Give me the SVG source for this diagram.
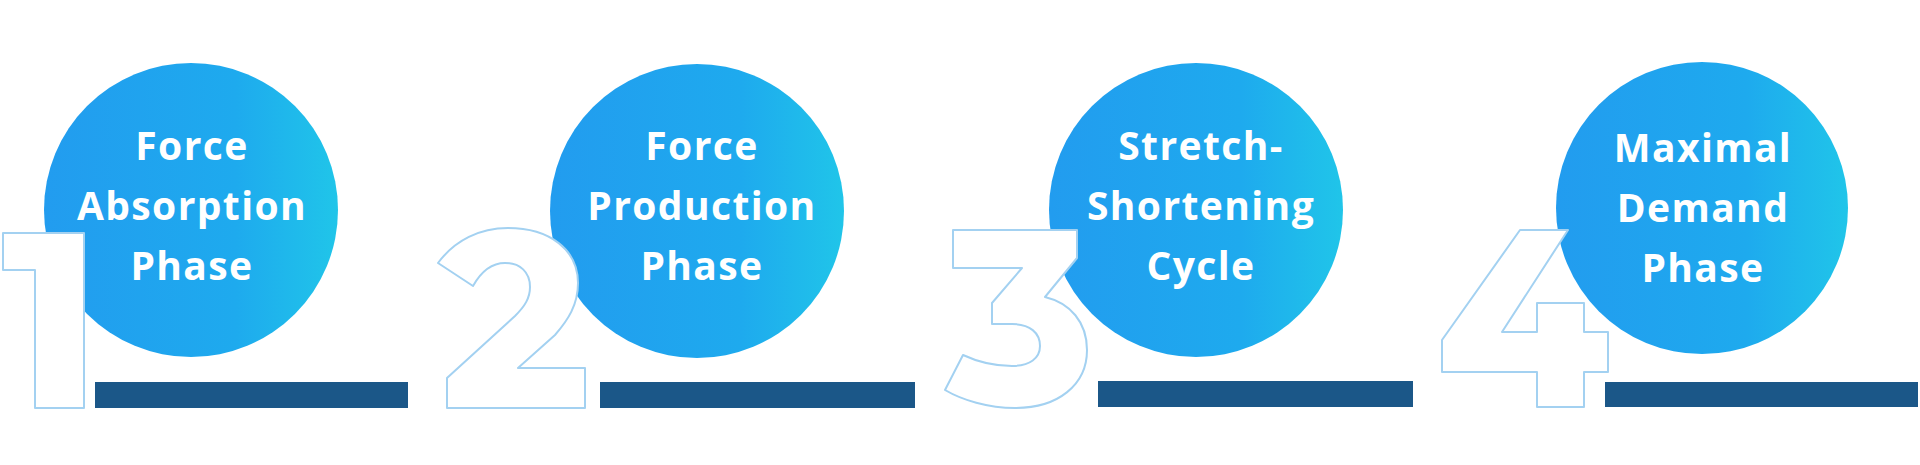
<svg xmlns="http://www.w3.org/2000/svg" width="1920" height="465" viewBox="0 0 1920 465">
<defs>
<linearGradient id="g" x1="0" y1="0" x2="1" y2="0">
<stop offset="0" stop-color="#229cef"/>
<stop offset="0.65" stop-color="#1eaaee"/>
<stop offset="1" stop-color="#20c5e9"/>
</linearGradient>
</defs>
<style>
.c{fill:url(#g)}
.d{fill:#ffffff;stroke:#a3d1f1;stroke-width:2;stroke-linejoin:round}
.b{fill:#1b5788}
.t{font-family:"Open Sans","Liberation Sans",sans-serif;font-weight:700;font-size:39px;fill:#ffffff;text-anchor:middle;letter-spacing:1.4px}
</style>
<rect width="1920" height="465" fill="#ffffff"/>
<g id="step1">
<circle class="c" cx="191" cy="210" r="147"/>
<path class="d" d="M3,233 L84,233 L84,408 L35,408 L35,270 L3,270 Z"/>
<rect class="b" x="95" y="382" width="313" height="26"/>
<text class="t" x="192" y="160">Force</text>
<text class="t" x="192" y="220">Absorption</text>
<text class="t" x="192" y="280">Phase</text>
</g>
<g id="step2">
<circle class="c" cx="697" cy="211" r="147"/>
<path class="d" d="M438,263 C455,240 480,228 508,228 C550,228 578,250 578,283 C578,305 568,320 555,335 L518,368 L585,368 L585,408 L447,408 L447,378 L515,316 C525,306 530,298 530,287 C530,272 520,263 505,263 C492,263 482,270 473,286 Z"/>
<rect class="b" x="600" y="382" width="315" height="26"/>
<text class="t" x="702" y="160">Force</text>
<text class="t" x="702" y="220">Production</text>
<text class="t" x="702" y="280">Phase</text>
</g>
<g id="step3">
<circle class="c" cx="1196" cy="210" r="147"/>
<path class="d" d="M953,230 L1077,230 L1077,258 L1045,297 C1070,303 1087,322 1087,350 C1087,385 1058,408 1015,408 C988,408 962,400 945,390 L963,355 C978,362 995,366 1012,366 C1030,366 1040,358 1040,346 C1040,333 1030,324 1012,324 L992,324 L992,303 L1022,268 L953,268 Z"/>
<rect class="b" x="1098" y="381" width="315" height="26"/>
<text class="t" x="1201" y="160">Stretch-</text>
<text class="t" x="1201" y="220">Shortening</text>
<text class="t" x="1201" y="280">Cycle</text>
</g>
<g id="step4">
<circle class="c" cx="1702" cy="208" r="146"/>
<path class="d" d="M1520,230 L1568,230 L1502,332 L1537,332 L1537,303 L1584,303 L1584,332 L1608,332 L1608,372 L1584,372 L1584,407 L1537,407 L1537,372 L1442,372 L1442,340 Z"/>
<rect class="b" x="1605" y="382" width="313" height="25"/>
<text class="t" x="1703" y="162">Maximal</text>
<text class="t" x="1703" y="222">Demand</text>
<text class="t" x="1703" y="282">Phase</text>
</g>
<g id="connectors"/>
</svg>
